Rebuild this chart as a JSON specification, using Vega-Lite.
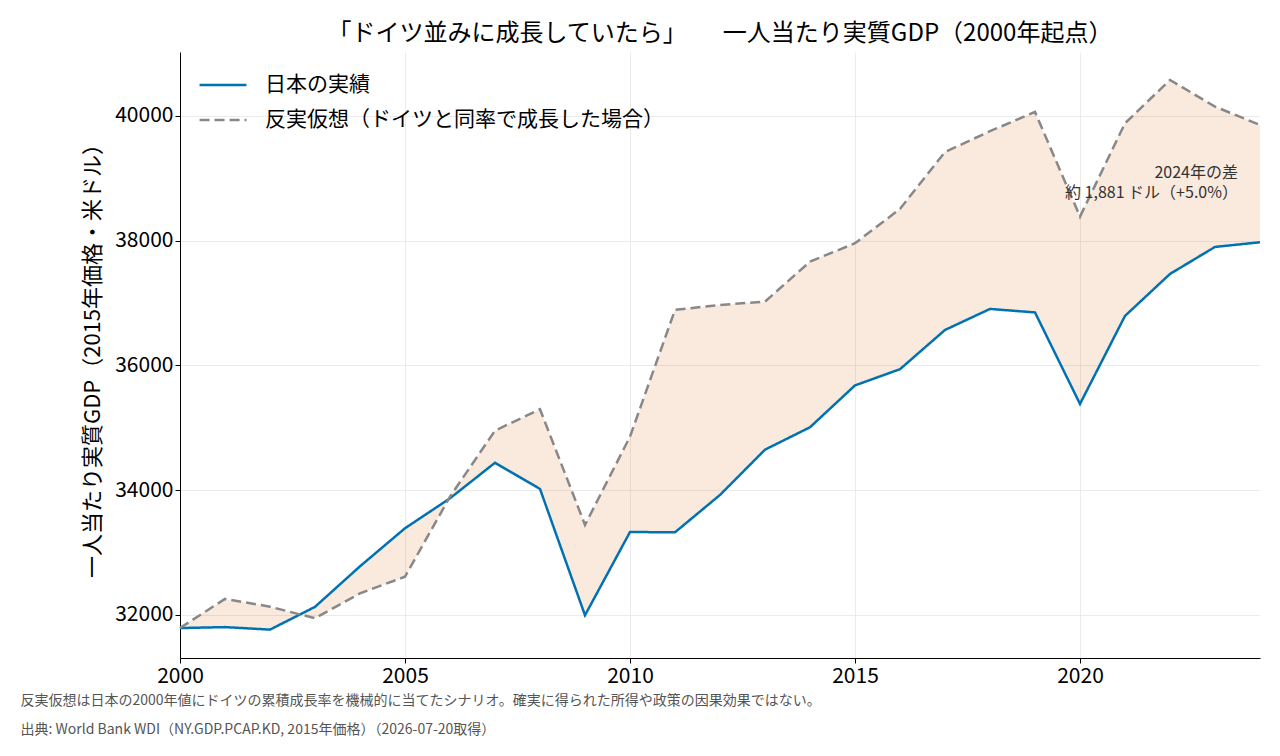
{
  "$schema": "https://vega.github.io/schema/vega-lite/v6.json",
  "width": 1080,
  "height": 606,
  "autosize": {"type": "none"},
  "padding": {"left": 180, "top": 52, "right": 20, "bottom": 98},
  "background": "white",
  "config": {
    "font": "Noto Sans CJK JP",
    "view": {"stroke": null},
    "axis": {"domainColor": "#000", "domainWidth": 1, "tickColor": "#000", "tickSize": 5, "labelFontSize": 21, "labelColor": "#000", "gridColor": "#e6e6e6", "gridWidth": 0.8}
  },
  "title": {"text": "「ドイツ並みに成長していたら」　　一人当たり実質GDP（2000年起点）", "fontSize": 24, "fontWeight": "normal", "color": "#000", "offset": 6, "anchor": "middle"},
  "data": {"values": [
    {"year": 2000, "日本の実績": 31790, "反実仮想（ドイツと同率で成長した場合）": 31790},
    {"year": 2001, "日本の実績": 31805, "反実仮想（ドイツと同率で成長した場合）": 32257},
    {"year": 2002, "日本の実績": 31765, "反実仮想（ドイツと同率で成長した場合）": 32133},
    {"year": 2003, "日本の実績": 32130, "反実仮想（ドイツと同率で成長した場合）": 31947},
    {"year": 2004, "日本の実績": 32780, "反実仮想（ドイツと同率で成長した場合）": 32345},
    {"year": 2005, "日本の実績": 33390, "反実仮想（ドイツと同率で成長した場合）": 32614},
    {"year": 2006, "日本の実績": 33870, "反実仮想（ドイツと同率で成長した場合）": 33897},
    {"year": 2007, "日本の実績": 34440, "反実仮想（ドイツと同率で成長した場合）": 34955},
    {"year": 2008, "日本の実績": 34020, "反実仮想（ドイツと同率で成長した場合）": 35298},
    {"year": 2009, "日本の実績": 31995, "反実仮想（ドイツと同率で成長した場合）": 33443},
    {"year": 2010, "日本の実績": 33330, "反実仮想（ドイツと同率で成長した場合）": 34858},
    {"year": 2011, "日本の実績": 33325, "反実仮想（ドイツと同率で成長した場合）": 36890},
    {"year": 2012, "日本の実績": 33924, "反実仮想（ドイツと同率で成長した場合）": 36970},
    {"year": 2013, "日本の実績": 34650, "反実仮想（ドイツと同率で成長した場合）": 37023},
    {"year": 2014, "日本の実績": 35009, "反実仮想（ドイツと同率で成長した場合）": 37665},
    {"year": 2015, "日本の実績": 35680, "反実仮想（ドイツと同率で成長した場合）": 37959},
    {"year": 2016, "日本の実績": 35940, "反実仮想（ドイツと同率で成長した場合）": 38509},
    {"year": 2017, "日本の実績": 36569, "反実仮想（ドイツと同率で成長した場合）": 39423},
    {"year": 2018, "日本の実績": 36906, "反実仮想（ドイツと同率で成長した場合）": 39755},
    {"year": 2019, "日本の実績": 36850, "反実仮想（ドイツと同率で成長した場合）": 40064},
    {"year": 2020, "日本の実績": 35383, "反実仮想（ドイツと同率で成長した場合）": 38386},
    {"year": 2021, "日本の実績": 36794, "反実仮想（ドイツと同率で成長した場合）": 39882},
    {"year": 2022, "日本の実績": 37467, "反実仮想（ドイツと同率で成長した場合）": 40577},
    {"year": 2023, "日本の実績": 37900, "反実仮想（ドイツと同率で成長した場合）": 40149},
    {"year": 2024, "日本の実績": 37975, "反実仮想（ドイツと同率で成長した場合）": 39856}
  ]},
  "encoding": {
    "x": {"field": "year", "type": "quantitative", "scale": {"domain": [2000, 2024], "nice": false, "zero": false},
      "axis": {"values": [2000, 2005, 2010, 2015, 2020], "format": "d", "labelFlush": false, "labelPadding": 2,
        "title": ["反実仮想は日本の2000年値にドイツの累積成長率を機械的に当てたシナリオ。確実に得られた所得や政策の因果効果ではない。", "出典: World Bank WDI（NY.GDP.PCAP.KD, 2015年価格）（2026-07-20取得）"],
        "titleAnchor": "start", "titleAlign": "left", "titleX": -160, "titleY": 35, "titleFontSize": 14, "titleFontWeight": "normal", "titleColor": "#555", "titleLineHeight": 29, "titleBaseline": "top"}}
  },
  "layer": [
    {
      "mark": {"type": "area", "color": "#D55E00", "opacity": 0.13},
      "encoding": {
        "y": {"field": "日本の実績", "type": "quantitative"},
        "y2": {"field": "反実仮想（ドイツと同率で成長した場合）"}
      }
    },
    {
      "transform": [{"fold": ["日本の実績", "反実仮想（ドイツと同率で成長した場合）"], "as": ["series", "value"]}],
      "mark": {"type": "line", "strokeWidth": 2.5},
      "encoding": {
        "y": {"field": "value", "type": "quantitative",
          "scale": {"domain": [31310, 41025], "nice": false, "zero": false},
          "axis": {"values": [32000, 34000, 36000, 38000, 40000], "format": "d", "labelPadding": 2, "title": "一人当たり実質GDP（2015年価格・米ドル）", "titleFontSize": 22, "titleFontWeight": "normal", "titleColor": "#000", "titlePadding": 10}},
        "color": {"field": "series", "type": "nominal",
          "scale": {"domain": ["日本の実績", "反実仮想（ドイツと同率で成長した場合）"], "range": ["#0072B2", "#888888"]},
          "legend": {"title": null, "orient": "none", "legendX": 18, "legendY": 8, "labelFontSize": 21, "labelLimit": 0, "labelColor": "#000", "symbolType": "stroke", "symbolSize": 2200, "symbolStrokeWidth": 2.5, "rowPadding": -13, "labelOffset": 17, "padding": 0}},
        "strokeDash": {"field": "series", "type": "nominal",
          "scale": {"domain": ["日本の実績", "反実仮想（ドイツと同率で成長した場合）"], "range": [[1, 0], [10, 5]]},
          "legend": null},
        "order": {"field": "series", "sort": "descending"}
      }
    },
    {
      "data": {"values": [
        {"year": 2023.51, "v": 39080, "label": "2024年の差"},
        {"year": 2023.51, "v": 38760, "label": "約 1,881 ドル（+5.0%）"}
      ]},
      "mark": {"type": "text", "align": "right", "baseline": "middle", "fontSize": 16, "color": "#333"},
      "encoding": {
        "x": {"field": "year", "type": "quantitative"},
        "y": {"field": "v", "type": "quantitative"},
        "text": {"field": "label"}
      }
    }
  ]
}
